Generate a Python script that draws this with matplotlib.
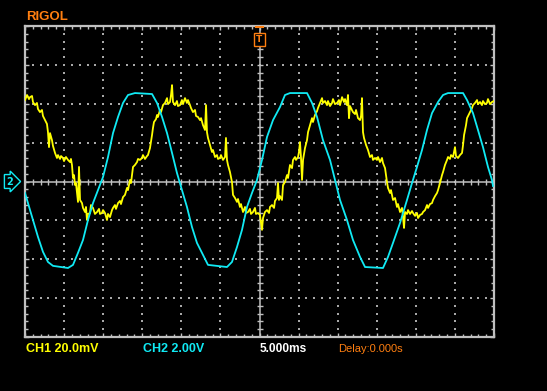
import numpy as np
import matplotlib
matplotlib.use("Agg")
import matplotlib.pyplot as plt

# --- scope settings ---
CH1_VDIV = 20.0   # mV / div
CH2_VDIV = 2.0    # V / div
T_DIV = 5.0       # ms / div

# --- CH2 (cyan) trace: time ms, volts ---
ch2_t = [-30.00, -29.62, -28.98, -28.34, -27.70, -27.06, -26.42, -24.50, -23.86, -23.22,
         -22.58, -21.94, -21.30, -20.66, -20.02, -19.38, -18.74, -18.10, -17.46, -16.82,
         -15.93, -13.75, -13.11, -12.47, -11.83, -11.19, -10.56, -9.92, -9.28, -8.64,
         -8.00, -7.36, -6.59, -4.16, -3.52, -2.88, -2.24, -1.60, -0.96, -0.32,
         0.32, 0.96, 1.73, 2.62, 3.26, 3.90, 6.08, 6.72, 7.36, 8.12,
         9.02, 9.66, 10.30, 11.19, 11.96, 12.86, 13.50, 15.80, 16.44, 17.08,
         17.98, 18.87, 19.51, 20.15, 20.79, 21.43, 22.07, 22.84, 23.48, 24.12,
         26.04, 26.55, 27.31, 27.95, 28.59, 29.23, 29.74, 29.87]
ch2_v = [-0.59, -1.11, -1.98, -2.85, -3.62, -4.14, -4.34, -4.45, -4.29, -3.67,
         -3.01, -1.98, -1.11, -0.44, 0.23, 1.26, 2.49, 3.32, 4.04, 4.45,
         4.55, 4.50, 4.04, 3.32, 2.49, 1.47, 0.44, -0.44, -1.31, -2.34,
         -3.16, -3.67, -4.29, -4.40, -4.14, -3.37, -2.49, -1.31, -0.59, 0.08,
         1.11, 2.29, 3.16, 3.83, 4.45, 4.55, 4.55, 4.04, 3.32, 2.13,
         1.11, 0.08, -0.95, -1.98, -3.01, -3.88, -4.40, -4.45, -3.88, -3.16,
         -2.13, -0.95, -0.08, 0.75, 1.62, 2.65, 3.52, 4.09, 4.45, 4.55,
         4.55, 4.19, 3.52, 2.65, 1.77, 0.75, 0.08, -0.23]

# --- CH1 (yellow) trace: time ms, millivolts ---
ch1_t = [-30.00, -29.74, -29.49, -29.36, -29.10, -28.98, -28.72, -28.47, -28.34, -28.08,
         -27.83, -27.70, -27.44, -27.19, -27.06, -26.93, -26.80, -26.55, -26.42, -26.16,
         -25.91, -25.78, -25.52, -25.39, -25.14, -25.01, -24.76, -24.50, -24.24, -24.12,
         -23.99, -23.86, -23.73, -23.60, -23.48, -23.35, -23.22, -23.09, -22.96, -22.71,
         -22.58, -22.32, -22.20, -22.07, -21.94, -21.69, -21.56, -21.30, -21.05, -20.79,
         -20.53, -20.41, -20.15, -20.02, -19.77, -19.51, -19.38, -19.13, -18.87, -18.74,
         -18.49, -18.36, -18.10, -17.85, -17.72, -17.46, -17.21, -16.95, -16.82, -16.57,
         -16.44, -16.18, -15.93, -15.67, -15.54, -15.29, -15.03, -14.91, -14.65, -14.39,
         -14.27, -14.01, -13.75, -13.63, -13.50, -13.24, -13.11, -12.99, -12.73, -12.60,
         -12.35, -12.09, -11.83, -11.71, -11.45, -11.32, -11.19, -11.07, -10.81, -10.56,
         -10.43, -10.17, -9.92, -9.79, -9.53, -9.28, -9.15, -8.89, -8.76, -8.51,
         -8.25, -8.12, -7.87, -7.61, -7.48, -7.23, -6.97, -6.84, -6.72, -6.59,
         -6.33, -6.08, -5.95, -5.69, -5.44, -5.31, -5.05, -4.93, -4.67, -4.41,
         -4.29, -4.16, -4.03, -3.78, -3.52, -3.39, -3.13, -2.88, -2.75, -2.50,
         -2.37, -2.11, -1.85, -1.73, -1.47, -1.22, -1.09, -0.83, -0.58, -0.45,
         -0.19, 0.06, 0.32, 0.45, 0.70, 0.96, 1.22, 1.34, 1.60, 1.86,
         1.98, 2.24, 2.37, 2.49, 2.62, 2.88, 3.01, 3.26, 3.52, 3.65,
         3.90, 4.16, 4.29, 4.54, 4.67, 4.93, 5.05, 5.18, 5.31, 5.44,
         5.57, 5.82, 6.08, 6.21, 6.46, 6.72, 6.84, 7.10, 7.36, 7.48,
         7.74, 8.00, 8.12, 8.38, 8.64, 8.76, 9.02, 9.28, 9.40, 9.66,
         9.92, 10.17, 10.30, 10.56, 10.81, 10.94, 11.19, 11.32, 11.45, 11.58,
         11.83, 11.96, 12.22, 12.35, 12.60, 12.86, 12.99, 13.11, 13.24, 13.37,
         13.63, 13.88, 14.14, 14.39, 14.52, 14.78, 15.03, 15.16, 15.42, 15.67,
         15.80, 16.06, 16.18, 16.31, 16.44, 16.70, 16.82, 17.08, 17.34, 17.59,
         17.72, 17.98, 18.23, 18.36, 18.49, 18.62, 18.87, 19.00, 19.26, 19.51,
         19.64, 19.90, 20.15, 20.28, 20.54, 20.79, 20.92, 21.18, 21.43, 21.56,
         21.82, 22.07, 22.20, 22.46, 22.71, 22.84, 23.09, 23.35, 23.48, 23.73,
         23.99, 24.12, 24.37, 24.50, 24.76, 24.89, 25.01, 25.14, 25.40, 25.65,
         25.91, 26.04, 26.17, 26.42, 26.55, 26.81, 26.93, 27.19, 27.31, 27.57,
         27.83, 27.95, 28.21, 28.46, 28.59, 28.85, 29.10, 29.23, 29.49, 29.74,
         30.00]
ch1_mv = [41.9, 44.5, 42.4, 43.4, 44.0, 40.9, 39.3, 40.4, 37.3, 35.7,
          36.8, 33.7, 31.6, 29.6, 25.4, 17.7, 24.9, 21.3, 18.3, 14.7,
          12.1, 13.6, 11.6, 13.1, 12.1, 10.5, 12.6, 11.1, 10.0, 11.6,
          8.5, 1.8, 3.3, -1.8, -0.8, -5.4, -10.5, 7.5, -9.5, -11.1,
          -13.6, -15.7, -13.1, -19.8, -16.7, -16.2, -12.1, -13.6, -16.7, -15.7,
          -14.1, -16.7, -16.2, -14.7, -16.2, -19.8, -16.7, -18.3, -14.7, -13.6,
          -12.1, -14.1, -11.1, -10.0, -11.6, -8.0, -6.9, -3.3, -4.4, 0.8,
          -0.8, 7.5, 8.5, 10.0, 11.6, 11.1, 12.1, 13.6, 11.6, 13.1,
          13.6, 17.2, 23.9, 27.5, 30.6, 32.1, 34.2, 33.2, 36.8, 35.7,
          39.3, 40.4, 42.9, 39.8, 40.9, 44.5, 49.6, 40.9, 39.3, 41.4,
          38.8, 39.3, 41.9, 39.8, 42.9, 40.4, 41.9, 39.3, 37.8, 35.7,
          36.8, 33.7, 33.2, 31.6, 32.6, 29.0, 26.5, 39.3, 25.4, 22.4,
          18.8, 15.2, 16.2, 12.6, 13.6, 11.6, 12.1, 13.6, 11.1, 12.6,
          22.4, 11.1, 8.5, 4.9, -0.3, -6.9, -8.5, -10.5, -9.0, -13.1,
          -11.6, -15.7, -13.1, -16.2, -15.7, -14.1, -16.7, -15.7, -13.6, -16.7,
          -16.2, -17.2, -24.9, -18.8, -15.7, -14.7, -16.2, -13.1, -12.1, -13.6,
          -10.0, -8.5, -0.8, -9.5, -7.5, -9.5, -1.8, -0.3, 3.3, 1.8,
          8.5, 6.9, 11.1, 12.6, 11.1, 12.6, 15.2, 20.3, 12.1, 0.8,
          11.1, 17.2, 21.3, 25.4, 29.0, 32.6, 30.6, 34.2, 36.2, 37.8,
          40.4, 42.9, 40.4, 41.4, 39.3, 41.4, 38.8, 40.4, 42.4, 39.8,
          40.4, 41.9, 39.3, 43.4, 40.9, 42.4, 39.3, 44.5, 32.6, 38.8,
          36.8, 35.7, 34.7, 36.8, 32.6, 31.6, 33.7, 42.9, 25.4, 22.4,
          18.8, 16.2, 12.6, 13.6, 11.1, 12.1, 11.1, 12.6, 10.0, 12.1,
          9.5, 6.9, 3.3, -0.3, -3.3, -5.9, -4.4, -9.5, -8.5, -13.1,
          -11.6, -15.7, -13.6, -18.3, -23.9, -15.7, -16.7, -14.7, -16.7, -15.2,
          -16.2, -17.7, -16.2, -18.8, -17.2, -16.7, -15.7, -14.7, -12.1, -13.6,
          -11.6, -11.1, -9.5, -7.5, -5.9, -4.4, -0.8, 3.3, 4.9, 8.5,
          11.1, 12.6, 11.6, 13.6, 12.6, 15.2, 17.7, 13.1, 12.1, 13.6,
          14.7, 18.8, 23.9, 29.0, 32.6, 34.7, 35.7, 37.8, 39.3, 40.4,
          41.9, 39.8, 40.9, 39.3, 41.4, 39.8, 40.4, 42.4, 39.8, 40.9,
          41.4]

YELLOW = "#ffff00"
CYAN = "#10eaf4"
ORANGE = "#ff7f10"
GRAY = "#c0c0c0"
FONT = ["Liberation Sans", "DejaVu Sans"]

W, H = 547, 391
fig = plt.figure(figsize=(W / 100, H / 100), dpi=100, facecolor="black")
ax = fig.add_axes([25 / W, (H - 337) / H, 469 / W, 311 / H], facecolor="black")
ax.set_xlim(-6 * T_DIV, 6 * T_DIV)
ax.set_ylim(-4, 4)

# border with inward ticks
for s in ax.spines.values():
    s.set_color(GRAY)
    s.set_linewidth(1.6)
ax.set_xticks(np.arange(-6, 7) * T_DIV)
ax.set_xticks(np.arange(-30, 31, 1.0), minor=True)
ax.set_yticks(np.arange(-4, 5))
ax.set_yticks(np.arange(-4, 4.01, 0.2), minor=True)
ax.tick_params(which="both", direction="in", top=True, right=True,
               labelbottom=False, labelleft=False, color=GRAY, width=1)
ax.tick_params(which="major", length=3)
ax.tick_params(which="minor", length=2.2)

# dotted graticule
dot_y = np.arange(-4, 4.01, 0.2)
for k in [-5, -4, -3, -2, -1, 1, 2, 3, 4, 5]:
    ax.scatter(np.full(dot_y.size, k * T_DIV), dot_y, s=0.6, marker="s",
               color="#a8a8a8", linewidths=0, zorder=1)
dot_x = np.arange(-30, 31, 1.0)
for k in [-3, -2, -1, 1, 2, 3]:
    ax.scatter(dot_x, np.full(dot_x.size, k), s=0.6, marker="s",
               color="#a8a8a8", linewidths=0, zorder=1)

# centre cross with small ticks
ax.axhline(0, color=GRAY, lw=1.1, zorder=1)
ax.axvline(0, color=GRAY, lw=1.1, zorder=1)
ax.plot(dot_x, np.zeros(dot_x.size), ls="none", marker="|", ms=4,
        mew=1, color=GRAY, zorder=1)
ax.plot(np.zeros(dot_y.size), dot_y, ls="none", marker="_", ms=4,
        mew=1, color=GRAY, zorder=1)

# traces
ax.plot(ch1_t, np.array(ch1_mv) / CH1_VDIV, color=YELLOW, lw=1.3, zorder=3)
ax.plot(ch2_t, np.array(ch2_v) / CH2_VDIV, color=CYAN, lw=1.3, zorder=4)

# trigger position marker
ax.text(0, 3.65, "T", color=ORANGE, fontsize=6.5, ha="center", va="center",
        fontweight="bold", zorder=5,
        bbox=dict(boxstyle="square,pad=0.25", fc="black", ec=ORANGE, lw=1))
ax.plot([-0.45, 0.45], [3.97, 3.97], color=ORANGE, lw=1.5, zorder=5, clip_on=False)

# CH2 ground marker
ax.annotate("2", xy=(-6 * T_DIV, 0), xytext=(-11, 0), textcoords="offset points",
            color=CYAN, fontsize=7, ha="center", va="center", annotation_clip=False,
            fontweight="bold",
            bbox=dict(boxstyle="rarrow,pad=0.2", fc="black", ec=CYAN, lw=1))

# screen texts
fig.text(26 / W, 1 - 17.5 / H, "RIGOL", color=ORANGE, fontsize=9.5,
         fontweight="bold", va="center", ha="left", family=FONT)
ty = 1 - 349 / H
fig.text(26 / W, ty, "CH1 20.0mV", color=YELLOW, fontsize=9,
         fontweight="bold", va="center", ha="left", family=FONT)
fig.text(143 / W, ty, "CH2 2.00V", color=CYAN, fontsize=9,
         fontweight="bold", va="center", ha="left", family=FONT)
fig.text(260 / W, ty, "5.000ms", color="white", fontsize=8.6,
         fontweight="bold", va="center", ha="left", family=FONT)
fig.text(338 / W, ty, "Delay:0.000s", color=ORANGE, fontsize=8,
         va="center", ha="left", family=FONT)

fig.savefig("out.png", dpi=100, facecolor="black")
